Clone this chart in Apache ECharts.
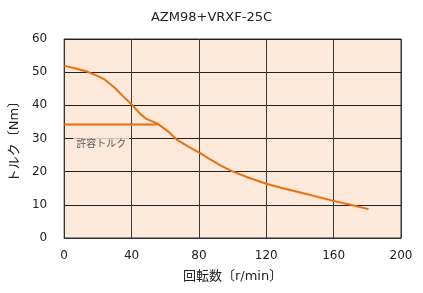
<!DOCTYPE html>
<html><head><meta charset="utf-8">
<script src="https://cdn.jsdelivr.net/npm/echarts@6/dist/echarts.min.js"></script>
<style>html,body{margin:0;padding:0;background:#fff}#c{width:423px;height:293px}</style>
</head><body><div id="c"></div>
<script>
const title = 'AZM98+VRXF-25C';
const xName = '回転数〔r/min〕';
const yName = 'トルク〔Nm〕';
const xTicks = [0, 40, 80, 120, 160, 200];
const yTicks = [0, 10, 20, 30, 40, 50, 60];
const speed = [0, 7, 14, 20, 24, 30, 35, 40.6, 45, 48.5, 55.4, 62, 67.3, 74, 81, 87, 93, 100, 110, 120.5, 130, 145, 160, 170, 180.7];
const torque = [51.9, 51.1, 50.1, 48.8, 47.8, 45.3, 42.7, 40.0, 37.5, 36.0, 34.5, 32.0, 29.5, 27.5, 25.5, 23.6, 21.8, 20.1, 18.1, 16.3, 15.0, 13.1, 11.2, 10.0, 8.7];
const permSpeed = [0, 55.4];
const permTorque = [34.2, 34.2];
const permLabel = '許容トルク';

const font = '"DejaVu Sans", "Noto Sans CJK JP", sans-serif';
const cjk = '"Noto Sans CJK JP", sans-serif';
const chart = echarts.init(document.getElementById('c'));
chart.setOption({
  animation: false,
  title: {text: title, left: 'center', top: 6, textStyle: {fontFamily: font, fontSize: 13, fontWeight: 'normal', color: '#222'}},
  grid: {left: 63, right: 22, top: 39, bottom: 55, show: true, backgroundColor: '#FDE9D9', borderColor: '#333', borderWidth: 1},
  xAxis: {type: 'value', min: xTicks[0], max: xTicks[xTicks.length-1], interval: 40,
    name: xName, nameLocation: 'middle', nameGap: 32,
    nameTextStyle: {fontFamily: font, fontSize: 13, color: '#222'},
    axisLine: {show: true, lineStyle: {color: '#333'}}, axisTick: {show: false},
    axisLabel: {fontFamily: font, fontSize: 12, color: '#222', margin: 12},
    splitLine: {show: true, lineStyle: {color: '#3a3a3a', width: 1}}},
  yAxis: {type: 'value', min: yTicks[0], max: yTicks[yTicks.length-1], interval: 10,
    name: yName, nameLocation: 'middle', nameGap: 38, nameRotate: 90,
    nameTextStyle: {fontFamily: font, fontSize: 13, color: '#222'},
    axisLabel: {fontFamily: font, fontSize: 12, color: '#222', margin: 17},
    axisLine: {show: true, lineStyle: {color: '#333'}}, axisTick: {show: false},
    splitLine: {show: true, lineStyle: {color: '#222', width: 1}}},
  series: [
    {type: 'line', data: speed.map((s, i) => [s, torque[i]]), showSymbol: false, smooth: false,
      lineStyle: {color: '#E8710F', width: 2}, z: 3},
    {type: 'line', data: permSpeed.map((s, i) => [s, permTorque[i]]), showSymbol: false,
      lineStyle: {color: '#E8710F', width: 2}, z: 3},
    {type: 'scatter', data: [[permSpeed[0], permTorque[0]]], symbolSize: 0, silent: true, z: 4,
      label: {show: true, formatter: permLabel, position: 'right', offset: [4, 19],
        fontFamily: cjk, fontSize: 10, color: '#333', backgroundColor: '#FDE9D9', padding: [3, 3]}}
  ]
});
</script></body></html>
